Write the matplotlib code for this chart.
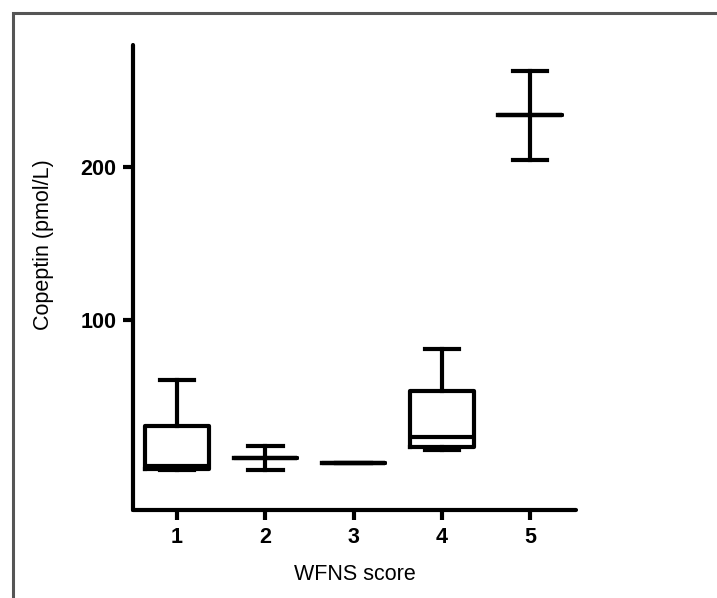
import matplotlib
matplotlib.use("Agg")
import matplotlib.pyplot as plt
from matplotlib.patches import Rectangle

# Data
categories = [1, 2, 3, 4, 5]
tick_labels = ["1", "2", "3", "4", "5"]
whisker_low = [2, 2, 7, 15, 205]
q1_values = [3, 10, 7, 17, 234]
medians = [5, 10, 7, 24, 234]
q3_values = [31, 10, 7, 54, 234]
whisker_high = [61, 18, 7, 81, 263]
y_ticks = [100, 200]

plt.rcParams['font.family'] = ['Liberation Sans', 'DejaVu Sans']

fig = plt.figure(figsize=(7.17, 5.98), dpi=100)
ax = fig.add_axes([133/717, 1 - 510/598, (576 - 133)/717, (510 - 45)/598])

stats = []
for c, lo, a, m, b, hi in zip(categories, whisker_low, q1_values, medians, q3_values, whisker_high):
    stats.append(dict(label=str(c), whislo=lo, q1=a, med=m, q3=b, whishi=hi, fliers=[]))

lw = 3.0
ax.bxp(stats, positions=categories, widths=0.72, showfliers=False,
       boxprops=dict(color='black', linewidth=lw),
       whiskerprops=dict(color='black', linewidth=lw),
       capprops=dict(color='black', linewidth=lw),
       medianprops=dict(color='black', linewidth=lw),
       capwidths=0.39, manage_ticks=False)

ax.set_xlim(0.5, 5.52)
ax.set_ylim(-24, 280)
ax.set_xticks(categories)
ax.set_xticklabels(tick_labels)
ax.set_yticks(y_ticks)
ax.set_yticklabels([str(v) for v in y_ticks])

for s in ['top', 'right']:
    ax.spines[s].set_visible(False)
for s in ['left', 'bottom']:
    ax.spines[s].set_linewidth(3)
    ax.spines[s].set_capstyle('round')

ax.tick_params(axis='both', direction='out', length=7, width=3, labelsize=15.5, pad=5)
for lab in ax.get_xticklabels() + ax.get_yticklabels():
    lab.set_fontweight('bold')

ax.set_xlabel("WFNS score", fontsize=15.5, labelpad=12)
ax.set_ylabel("Copeptin (pmol/L)", fontsize=15.5)
ax.yaxis.set_label_coords(-0.178, (510 - 245) / 465)

# outer gray frame
fig.patches.append(Rectangle((13/717, -0.1), 1.2, 1 - 13/598 + 0.1, transform=fig.transFigure,
                             fill=False, edgecolor='#555555', linewidth=2.2))

fig.savefig("out.png", dpi=100)
